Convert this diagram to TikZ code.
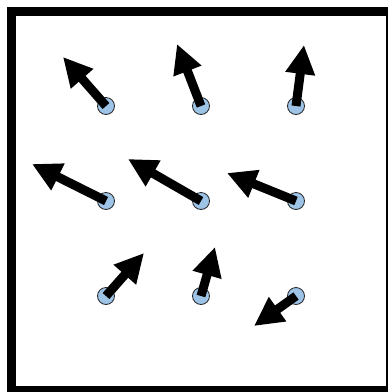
\documentclass[tikz,border=0pt]{standalone}
\usepackage{tikz}
\usetikzlibrary{arrows.meta}
\definecolor{dotBlue}{HTML}{9DC3E6}
\tikzset{
  frame/.style={draw=black, line width=9pt},
  dot/.style={draw=black!85, circle, minimum size=17pt, inner sep=0pt, fill=dotBlue, line width=0.8pt},
  vec/.style={-{Triangle[length=29pt, width=28pt]}, line width=9pt, black},
}

\begin{document}
\begin{tikzpicture}[x=1pt, y=-1pt]
  \useasboundingbox (0,0) rectangle (388,392);
  % outer frame, cut by the page edge
  \begin{scope}
    \clip (0,0) rectangle (388,392);
    \draw[frame] (11.5,11.5) rectangle (390.5,390.5);
  \end{scope}
  % grid of points
  \node[dot] (p11) at (106,106) {};
  \node[dot] (p12) at (201,106) {};
  \node[dot] (p13) at (296,106) {};
  \node[dot] (p21) at (106,201) {};
  \node[dot] (p22) at (201,201) {};
  \node[dot] (p23) at (296,201) {};
  \node[dot] (p31) at (106,296) {};
  \node[dot] (p32) at (201,296) {};
  \node[dot] (p33) at (296,296) {};
  % arrow tips
  \coordinate (t11) at (63,57);
  \coordinate (t12) at (177,44);
  \coordinate (t13) at (304,45);
  \coordinate (t21) at (32,164);
  \coordinate (t22) at (128,159);
  \coordinate (t23) at (227,173);
  \coordinate (t31) at (144,253);
  \coordinate (t32) at (215,247);
  \coordinate (t33) at (254,326);
  % vectors
  \draw[vec] (p11.center) -- (t11);
  \draw[vec] (p12.center) -- (t12);
  \draw[vec] (p13.center) -- (t13);
  \draw[vec] (p21.center) -- (t21);
  \draw[vec] (p22.center) -- (t22);
  \draw[vec] (p23.center) -- (t23);
  \draw[vec] (p31.center) -- (t31);
  \draw[vec] (p32.center) -- (t32);
  \draw[vec] (p33.center) -- (t33);
\end{tikzpicture}
\end{document}
